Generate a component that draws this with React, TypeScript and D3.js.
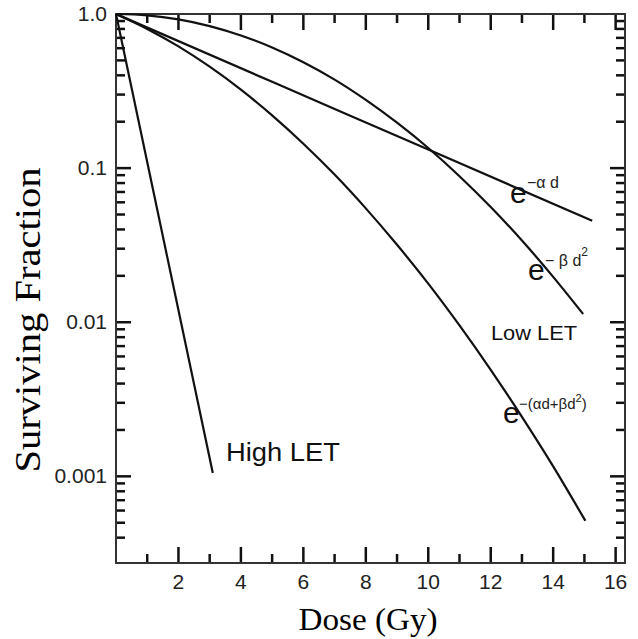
import React, { useEffect, useRef } from 'react';
import * as d3 from 'd3';

// Values: dose in Gy, surviving fraction
const highLetDose = [0, 3.1];
const highLetSF = [1, 0.00105];

const alphaDose = [0, 5, 10, 15.25];
const alphaSF = [1, 0.363, 0.132, 0.0455];

const betaDose = [0, 1, 2, 3, 4, 5, 6, 7, 8, 9, 10, 11, 12, 13, 14, 14.96];
const betaSF = [1, 0.98, 0.923, 0.835, 0.726, 0.606, 0.486, 0.375, 0.277, 0.197, 0.135, 0.0886, 0.0559, 0.0339, 0.0197, 0.0113];

const lqDose = [0, 1, 2, 3, 4, 5, 6, 7, 8, 9, 10, 11, 12, 13, 14, 15.03];
const lqSF = [1, 0.8, 0.616, 0.455, 0.323, 0.22, 0.144, 0.0908, 0.0548, 0.0318, 0.0178, 0.00953, 0.00491, 0.00243, 0.00116, 0.000515];

const xTickValues = [2, 4, 6, 8, 10, 12, 14, 16];
const yTickValues = [1, 0.1, 0.01, 0.001];
const yTickLabels = ['1.0', '0.1', '0.01', '0.001'];

const xDomain = [0, 16.3];
const yDomain = [0.000274, 1];

const sans = '"Liberation Sans", Arial, sans-serif';
const serif = '"Liberation Serif", "Times New Roman", serif';

const App = () => {
    const svgRef = useRef<SVGSVGElement>(null);

    useEffect(() => {
        const svg = d3.select(svgRef.current);
        svg.selectAll('*').remove();

        const left = 116, right = 625, top = 14, bottom = 563;

        const x = d3.scaleLinear().domain(xDomain).range([left, right]);
        const y = d3.scaleLog().domain(yDomain).range([bottom, top]);

        const axisColor = '#333';

        // minor x ticks every 1 Gy, major on even numbers
        const xTicks = d3.range(1, 17);
        // log ticks 2..9 per decade
        const yTicks: number[] = [];
        [-4, -3, -2, -1].forEach(k => {
            for (let m = 1; m <= 9; m++) {
                const v = m * Math.pow(10, k);
                if (v >= 0.0004 && v < 1) yTicks.push(v);
            }
        });
        const isMajorY = (v: number) => yTickValues.some(t => Math.abs(t - v) / t < 1e-6);

        const g = svg.append('g');

        // bottom ticks
        g.selectAll('.xb').data(xTicks).enter().append('line')
            .attr('x1', d => x(d)).attr('x2', d => x(d))
            .attr('y1', bottom).attr('y2', d => bottom - (d % 2 === 0 ? 16 : 9))
            .attr('stroke', '#111').attr('stroke-width', 2.5);
        // top ticks
        g.selectAll('.xt').data(xTicks).enter().append('line')
            .attr('x1', d => x(d)).attr('x2', d => x(d))
            .attr('y1', top).attr('y2', d => top + (d % 2 === 0 ? 16 : 9))
            .attr('stroke', '#111').attr('stroke-width', 2.5);
        // left ticks
        g.selectAll('.yl').data(yTicks).enter().append('line')
            .attr('x1', left).attr('x2', d => left + (isMajorY(d) ? 15 : 9))
            .attr('y1', d => y(d)).attr('y2', d => y(d))
            .attr('stroke', '#111').attr('stroke-width', 2.5);
        // right ticks
        g.selectAll('.yr').data(yTicks).enter().append('line')
            .attr('x1', right).attr('x2', d => right - (isMajorY(d) ? 15 : 9))
            .attr('y1', d => y(d)).attr('y2', d => y(d))
            .attr('stroke', '#111').attr('stroke-width', 2.5);

        // frame
        g.append('rect')
            .attr('x', left).attr('y', top)
            .attr('width', right - left).attr('height', bottom - top)
            .attr('fill', 'none').attr('stroke', axisColor).attr('stroke-width', 2);

        // tick labels
        g.selectAll('.xl').data(xTickValues).enter().append('text')
            .attr('x', d => x(d)).attr('y', 589)
            .attr('text-anchor', 'middle')
            .attr('font-family', sans).attr('font-size', 21).attr('fill', '#222')
            .text(d => d);
        g.selectAll('.ylab').data(yTickValues).enter().append('text')
            .attr('x', 107).attr('y', d => y(d) + 7)
            .attr('text-anchor', 'end')
            .attr('font-family', sans).attr('font-size', 21).attr('fill', '#222')
            .text((d, i) => yTickLabels[i]);

        // axis titles
        g.append('text')
            .attr('x', 368).attr('y', 630)
            .attr('text-anchor', 'middle')
            .attr('font-family', serif).attr('font-size', 31)
            .attr('textLength', 139).attr('lengthAdjust', 'spacingAndGlyphs')
            .text('Dose (Gy)');
        g.append('text')
            .attr('transform', 'translate(40,320) rotate(-90)')
            .attr('text-anchor', 'middle')
            .attr('font-family', serif).attr('font-size', 36)
            .attr('textLength', 305).attr('lengthAdjust', 'spacingAndGlyphs')
            .text('Surviving Fraction');

        // curves
        const line = d3.line<[number, number]>()
            .x(d => x(d[0]))
            .y(d => y(d[1]))
            .curve(d3.curveMonotoneX);
        const series = [
            d3.zip(highLetDose, highLetSF),
            d3.zip(alphaDose, alphaSF),
            d3.zip(betaDose, betaSF),
            d3.zip(lqDose, lqSF),
        ] as [number, number][][];
        g.selectAll('.curve').data(series).enter().append('path')
            .attr('d', d => line(d))
            .attr('fill', 'none').attr('stroke', '#111').attr('stroke-width', 2.2);

        // labels
        g.append('text')
            .attr('x', 226).attr('y', 461)
            .attr('font-family', sans).attr('font-size', 26).attr('fill', '#111')
            .attr('textLength', 114).attr('lengthAdjust', 'spacingAndGlyphs')
            .text('High LET');
        g.append('text')
            .attr('x', 491).attr('y', 340)
            .attr('font-family', sans).attr('font-size', 21).attr('fill', '#111')
            .attr('textLength', 86).attr('lengthAdjust', 'spacingAndGlyphs')
            .text('Low LET');

        const eLabel = (ex: number, ey: number) =>
            g.append('text')
                .attr('x', ex).attr('y', ey)
                .attr('font-family', sans).attr('font-size', 30).attr('fill', '#111')
                .text('e');

        eLabel(510, 203);
        g.append('text')
            .attr('x', 527).attr('y', 188)
            .attr('font-family', sans).attr('font-size', 16).attr('fill', '#222')
            .text('\u2212\u03b1 d');

        eLabel(528, 280);
        const b = g.append('text')
            .attr('x', 545).attr('y', 266)
            .attr('font-family', sans).attr('font-size', 16).attr('fill', '#222');
        b.append('tspan').text('\u2212 \u03b2 d');
        b.append('tspan').attr('dy', -10).attr('font-size', 12).text('2');

        eLabel(503, 423);
        const lq = g.append('text')
            .attr('x', 519).attr('y', 409)
            .attr('font-family', sans).attr('font-size', 15).attr('fill', '#222');
        lq.append('tspan').text('\u2212(\u03b1d+\u03b2d');
        lq.append('tspan').attr('dy', -7).attr('font-size', 11).text('2');
        lq.append('tspan').attr('dy', 7).text(')');
    }, []);

    return (
        <svg
            ref={svgRef}
            width={638}
            height={639}
            style={{ position: 'absolute', left: 0, top: 0, background: '#fff' }}
        />
    );
};

export default App;
